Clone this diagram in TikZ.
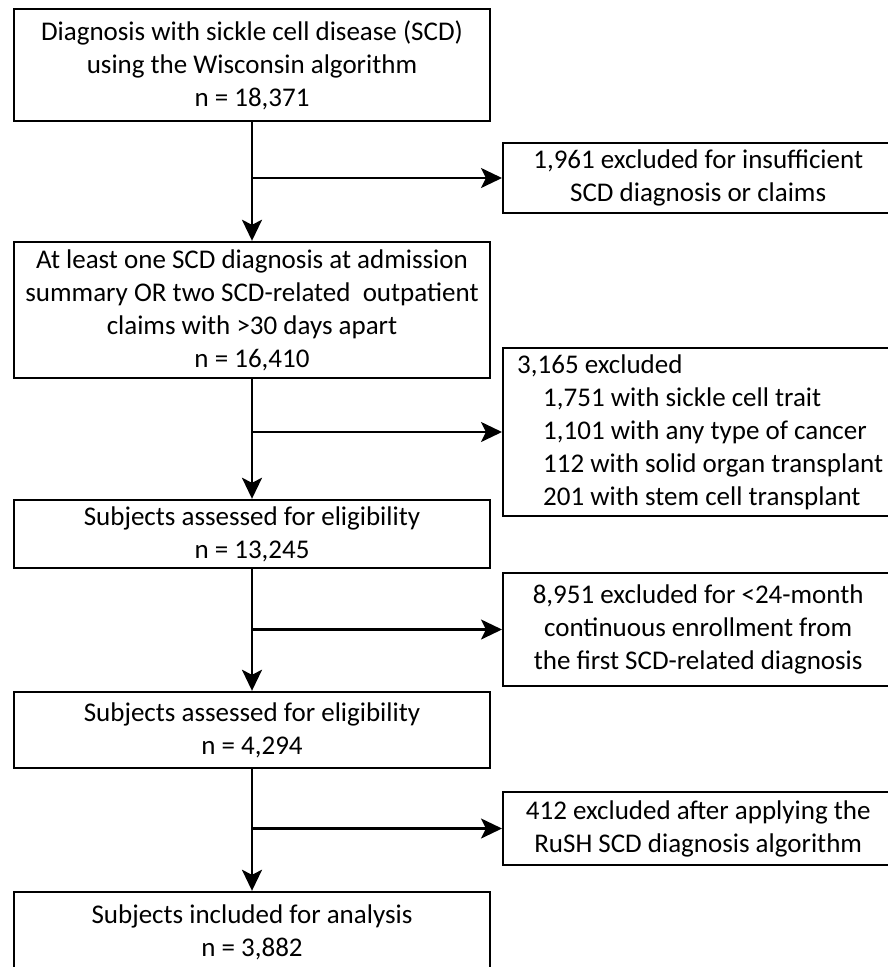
\documentclass[tikz,border=0pt]{standalone}
\usepackage{fontspec}
\setmainfont{Carlito}
\usetikzlibrary{arrows.meta}
\begin{document}
\begin{tikzpicture}[x=1pt,y=-1pt,line cap=butt,line join=miter,
    every node/.style={font=\fontsize{27}{33}\selectfont},
    mainbox/.style={draw,line width=2.4pt,minimum width=476pt,inner sep=0pt,align=center},
    exclbox/.style={draw,line width=2.4pt,minimum width=390pt,inner sep=0pt,anchor=west},
    arr/.style={line width=2.4pt,-{Stealth[length=21pt,width=20pt,inset=5pt]}}]
  \useasboundingbox (0,0) rectangle (887,967);
  \node[mainbox,minimum height=112pt] (wisc) at (252,65)
    {Diagnosis with sickle cell disease (SCD)\\using the Wisconsin algorithm\\n = 18,371};
  \node[mainbox,minimum height=136pt] (admit) at (252,310)
    {At least one SCD diagnosis at admission\\summary OR two SCD-related\ \ outpatient\\claims with >30 days apart\\n = 16,410};
  \node[mainbox,minimum height=68pt] (elig1) at (252,534)
    {Subjects assessed for eligibility\\n = 13,245};
  \node[mainbox,minimum height=76pt] (elig2) at (252,730)
    {Subjects assessed for eligibility\\n = 4,294};
  \node[mainbox,minimum height=80pt] (incl) at (252,932)
    {Subjects included for analysis\\n = 3,882};
  \node[exclbox,minimum height=70pt,align=center] (ex1) at (502,178)
    {1,961 excluded for insufficient\\SCD diagnosis or claims};
  \node[exclbox,minimum height=168pt,align=flush left,text width=390pt] (ex2) at (502,432)
    {\hspace*{14pt}3,165 excluded\\
     \hspace*{40pt}1,751 with sickle cell trait\\
     \hspace*{40pt}1,101 with any type of cancer\\
     \hspace*{40pt}112 with solid organ transplant\\
     \hspace*{40pt}201 with stem cell transplant};
  \node[exclbox,minimum height=113pt,align=center] (ex3) at (502,629.5)
    {8,951 excluded for <24-month\\continuous enrollment from\\the first SCD-related diagnosis};
  \node[exclbox,minimum height=73pt,align=center] (ex4) at (502,828.5)
    {412 excluded after applying the\\RuSH SCD diagnosis algorithm};
  \draw[arr] (wisc.south) -- (admit.north);
  \draw[arr] (wisc.south |- ex1.west) -- (ex1.west);
  \draw[arr] (admit.south) -- (elig1.north);
  \draw[arr] (admit.south |- ex2.west) -- (ex2.west);
  \draw[arr] (elig1.south) -- (elig2.north);
  \draw[arr] (elig1.south |- ex3.west) -- (ex3.west);
  \draw[arr] (elig2.south) -- (incl.north);
  \draw[arr] (elig2.south |- ex4.west) -- (ex4.west);
\end{tikzpicture}
\end{document}
